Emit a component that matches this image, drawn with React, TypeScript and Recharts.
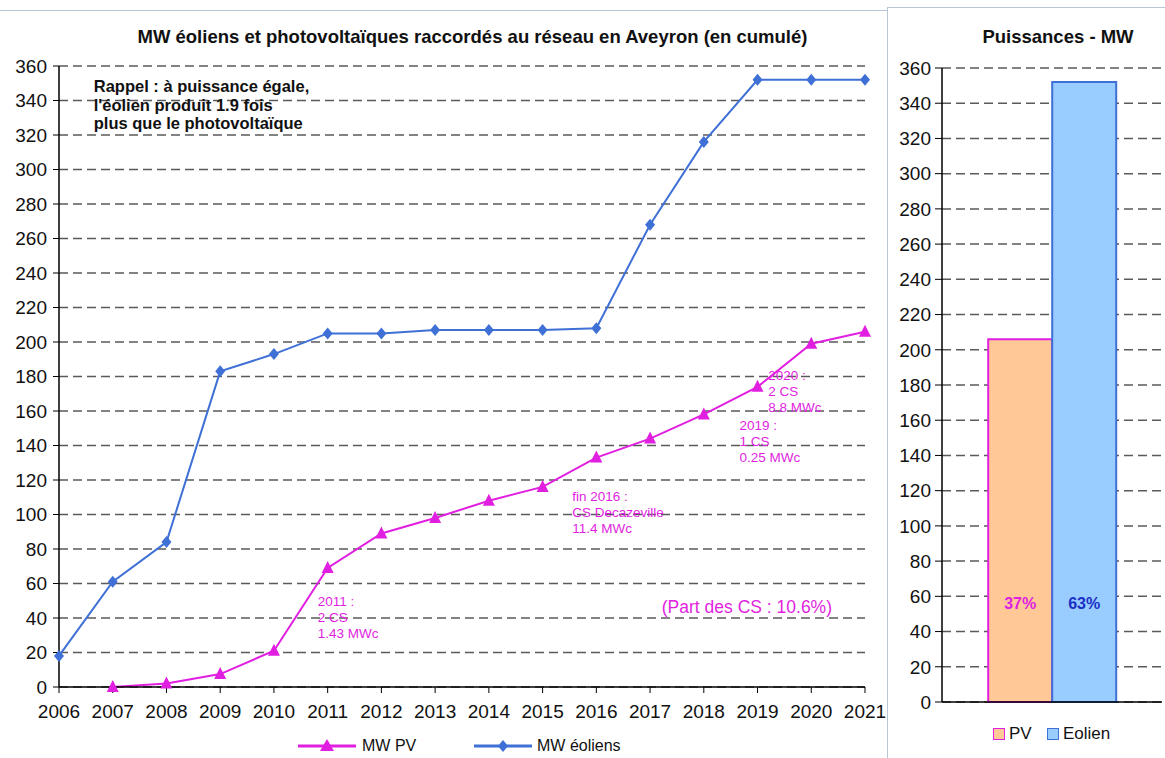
import {
  LineChart, Line, BarChart, Bar, XAxis, YAxis, CartesianGrid, Legend,
  ReferenceDot, LabelList,
} from "recharts";

const years = ["2006", "2007", "2008", "2009", "2010", "2011", "2012", "2013",
  "2014", "2015", "2016", "2017", "2018", "2019", "2020", "2021"];
const mwEoliens = [18, 61, 84, 183, 193, 205, 205, 207, 207, 207, 208, 268, 316, 352, 352, 352];
const mwPV = [null, 0, 2, 7.5, 21, 69, 89, 98, 108, 116, 133, 144, 158, 174, 199, 206];
const yTicks = [0, 20, 40, 60, 80, 100, 120, 140, 160, 180, 200, 220, 240, 260, 280, 300, 320, 340, 360];

// last year totals, for the right-hand panel
const totalPV = 206;
const totalEolien = 352;

// annotations: anchor year + value, text lines
const pvNotes = [
  { year: "2011", at: 47, dx: -10, lines: ["2011 :", "2 CS", "1.43 MWc"] },
  { year: "2016", at: 108, dx: -24, lines: ["fin 2016 :", "CS Decazeville", "11.4 MWc"] },
  { year: "2019", at: 149, dx: -18, lines: ["2019 :", "1 CS", "0.25 MWc"] },
  { year: "2020", at: 178, dx: -43, lines: ["2020 :", "2 CS", "8.8 MWc"] },
];
const partNote = { year: "2018", at: 43, dx: -42, text: "(Part des CS : 10.6%)" };
const rappel = { year: "2007", at: 345, dx: -19, lines: ["Rappel : à puissance égale,", "l'éolien produit 1.9 fois", "plus que le photovoltaïque"] };

const lineData = years.map((y, i) => ({ year: y, eol: mwEoliens[i], pv: mwPV[i] }));
const barData = [{ name: "MW", pv: totalPV, eol: totalEolien }];

const BLUE = "#3f70d6";
const MAGENTA = "#e11fe0";
const NARROW = '"Liberation Sans Narrow", "Arial Narrow", "Liberation Sans", Arial, sans-serif';
const SANS = '"Liberation Sans", Arial, sans-serif';
const GRID = "#5a5a5a";

const diamond = (p: any) => {
  if (p.cx == null || p.cy == null) return <g key={p.key} />;
  const { cx, cy } = p;
  return <polygon key={p.key} points={`${cx},${cy - 6} ${cx + 5},${cy} ${cx},${cy + 6} ${cx - 5},${cy}`} fill={BLUE} />;
};

const triangle = (p: any) => {
  if (p.cx == null || p.cy == null || p.value == null) return <g key={p.key} />;
  const { cx, cy } = p;
  return <polygon key={p.key} points={`${cx},${cy - 7} ${cx + 6},${cy + 5} ${cx - 6},${cy + 5}`} fill={MAGENTA} />;
};

const note = (lines: string[], dx: number, size: number, color: string, weight = "normal", family = NARROW, lh = 1.2) =>
  (props: any) => {
    const vb = props.viewBox || {};
    const x = vb.x + (vb.width || 0) / 2 + dx;
    const y = vb.y + (vb.height || 0) / 2;
    return (
      <text x={x} y={y} fill={color} fontSize={size} fontWeight={weight} fontFamily={family}>
        {lines.map((l, i) => (
          <tspan key={i} x={x} dy={i === 0 ? 0 : size * lh}>{l}</tspan>
        ))}
      </text>
    );
  };

const LeftLegend = () => (
  <div style={{ position: "relative", height: 24, width: 865, fontFamily: NARROW, fontSize: 16, color: "#111" }}>
    <svg width={58} height={16} style={{ position: "absolute", left: 298, top: 4 }}>
      <line x1={0} y1={8} x2={58} y2={8} stroke={MAGENTA} strokeWidth={3} />
      <polygon points="29,1 36,13 22,13" fill={MAGENTA} />
    </svg>
    <span style={{ position: "absolute", left: 362, top: 3 }}>MW PV</span>
    <svg width={58} height={16} style={{ position: "absolute", left: 474, top: 4 }}>
      <line x1={0} y1={8} x2={58} y2={8} stroke={BLUE} strokeWidth={3} />
      <polygon points="29,2 34,8 29,14 24,8" fill={BLUE} />
    </svg>
    <span style={{ position: "absolute", left: 537, top: 3 }}>MW éoliens</span>
  </div>
);

const sq = (fill: string, border: string, left: number) => (
  <span style={{ position: "absolute", left, top: 6, width: 10, height: 10, background: fill, border: `1.5px solid ${border}` }} />
);

const RightLegend = () => (
  <div style={{ position: "relative", height: 24, width: 275, fontFamily: NARROW, fontSize: 17, color: "#111" }}>
    {sq("#ffc896", MAGENTA, 106)}
    <span style={{ position: "absolute", left: 122, top: 2 }}>PV</span>
    {sq("#99ccff", BLUE, 160)}
    <span style={{ position: "absolute", left: 176, top: 2 }}>Eolien</span>
  </div>
);

const pctLabel = (color: string, share: number) => (props: any) => {
  const { x, y, width, height } = props;
  return (
    <text x={x + width / 2} y={y + height - 93} textAnchor="middle" fill={color} fontSize={16} fontWeight="bold" fontFamily={SANS}>
      {Math.round(share * 100)}%
    </text>
  );
};

export default function App() {
  const sum = totalPV + totalEolien;
  return (
    <div style={{ position: "absolute", left: 0, top: 0, width: 1165, height: 758, background: "#fff", overflow: "hidden" }}>
      <div style={{ position: "absolute", left: 0, top: 10, width: 887, borderTop: "1.5px solid #b7c7d6" }} />
      <div style={{ position: "absolute", left: 887, top: 7, width: 290, height: 760, borderTop: "1.5px solid #b7c7d6", borderLeft: "1.5px solid #b7c7d6" }} />

      <div style={{ position: "absolute", left: 0, top: 26, width: 945, textAlign: "center", fontFamily: SANS, fontWeight: "bold", fontSize: 18.5, color: "#111" }}>
        MW éoliens et photovoltaïques raccordés au réseau en Aveyron (en cumulé)
      </div>
      <div style={{ position: "absolute", left: 940, top: 26, width: 236, textAlign: "center", fontFamily: SANS, fontWeight: "bold", fontSize: 18.5, color: "#111" }}>
        Puissances - MW
      </div>

      <div style={{ position: "absolute", left: 0, top: 0 }}>
        <LineChart width={887} height={758} data={lineData} margin={{ top: 66, right: 22, left: 0, bottom: 0 }}>
          <CartesianGrid vertical={false} stroke={GRID} strokeDasharray="9 5" strokeWidth={1.5} />
          <XAxis dataKey="year" type="category" axisLine={{ stroke: "#000", strokeWidth: 1.5 }} tickLine={{ stroke: "#000" }}
            tickSize={6} tickMargin={12} height={47} interval={0}
            tick={{ fill: "#111", fontSize: 19, fontFamily: NARROW }} />
          <YAxis domain={[0, 360]} ticks={yTicks} width={59} interval={0} axisLine={{ stroke: "#000", strokeWidth: 1.5 }}
            tickLine={{ stroke: "#000" }} tickSize={6} tickMargin={6}
            tick={{ fill: "#111", fontSize: 19, fontFamily: NARROW }} />
          <Legend verticalAlign="bottom" content={<LeftLegend />} />
          <Line dataKey="eol" stroke={BLUE} strokeWidth={2} dot={diamond} activeDot={false} isAnimationActive={false} />
          <Line dataKey="pv" stroke={MAGENTA} strokeWidth={2} dot={triangle} activeDot={false} isAnimationActive={false} />
          {pvNotes.map((n) => (
            <ReferenceDot key={n.year} x={n.year} y={n.at} r={1} fill="none" stroke="none"
              label={note(n.lines, n.dx, 13.5, MAGENTA)} />
          ))}
          <ReferenceDot x={partNote.year} y={partNote.at} r={1} fill="none" stroke="none"
            label={note([partNote.text], partNote.dx, 17.5, MAGENTA)} />
          <ReferenceDot x={rappel.year} y={rappel.at} r={1} fill="none" stroke="none"
            label={note(rappel.lines, rappel.dx, 16.5, "#111", "bold", SANS, 1.13)} />
        </LineChart>
      </div>

      <div style={{ position: "absolute", left: 887, top: 0 }}>
        <BarChart width={278} height={758} data={barData} margin={{ top: 68, right: 3, left: 0, bottom: 12 }}
          barGap={0} barCategoryGap="21%">
          <CartesianGrid vertical={false} stroke={GRID} strokeDasharray="9 5" strokeWidth={1.5} />
          <XAxis dataKey="name" tick={false} tickLine={false} height={20} axisLine={{ stroke: "#000", strokeWidth: 1.5 }} />
          <YAxis domain={[0, 360]} ticks={yTicks} width={55} interval={0} axisLine={{ stroke: "#000", strokeWidth: 1.5 }}
            tickLine={{ stroke: "#000" }} tickSize={7} tickMargin={4}
            tick={{ fill: "#111", fontSize: 19, fontFamily: NARROW }} />
          <Legend verticalAlign="bottom" content={<RightLegend />} />
          <Bar dataKey="pv" fill="#ffc896" stroke={MAGENTA} strokeWidth={2} isAnimationActive={false}>
            <LabelList dataKey="pv" content={pctLabel(MAGENTA, totalPV / sum)} />
          </Bar>
          <Bar dataKey="eol" fill="#99ccff" stroke={BLUE} strokeWidth={2} isAnimationActive={false}>
            <LabelList dataKey="eol" content={pctLabel("#1a2fc4", totalEolien / sum)} />
          </Bar>
        </BarChart>
      </div>
    </div>
  );
}
